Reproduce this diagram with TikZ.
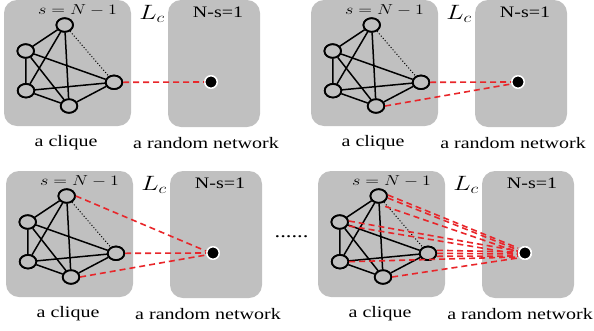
\documentclass[tikz,border=0pt]{standalone}
\usepackage{fontspec}
\setmainfont{Liberation Serif}
\usepackage{graphicx}
\usetikzlibrary{shapes.geometric}
\definecolor{boxgray}{RGB}{192,192,192}
\definecolor{edgered}{RGB}{232,38,42}
\newcommand\hs[1]{\scalebox{1.25}[1]{#1}}
\tikzset{
  panelbox/.style={fill=boxgray, draw=none, rounded corners=13pt},
  cn/.style={ellipse, draw=black, line width=1.8pt, fill=boxgray, minimum width=16.5pt, minimum height=13.5pt, inner sep=0pt},
  dotnode/.style={circle, fill=black, draw=white, line width=1.5pt, minimum size=12.5pt, inner sep=0pt},
  ce/.style={black, line width=1.5pt},
  cdot/.style={black, dotted, line width=1pt},
  rd/.style={edgered, dashed, dash pattern=on 6pt off 4pt, line width=1.6pt},
  lbl/.style={font=\fontsize{16}{18}\selectfont, inner sep=0pt},
}
\newcommand\drawpanel[3]{%
  \begin{scope}[shift={(#1,#2)}]
    \fill[panelbox] (4,0) rectangle (131,126);
    \fill[panelbox] (168,0) rectangle (260,127);
    \node[inner sep=0pt, font=\fontsize{14.4}{16}\selectfont] (#3m) at (77.5,10.5) {\hs{$s=N-1$}};
    \node[inner sep=0pt, font=\fontsize{20.74}{22}\selectfont] (#3L) at (152,13.5) {\hs{$L_c$}};
    \node[inner sep=0pt, font=\fontsize{16}{18}\selectfont] (#3n) at (218,12) {\hs{N-s=1}};
    \node[cn] (#3t) at (64.7,25) {};
    \node[cn] (#3l) at (25.7,51) {};
    \node[cn] (#3bl) at (26,90.7) {};
    \node[cn] (#3b) at (69,106) {};
    \node[cn] (#3r) at (114,82.3) {};
    \node[dotnode] (#3d) at (211,82) {};
    \draw[ce] (#3t) -- (#3l);
    \draw[ce] (#3t) -- (#3bl);
    \draw[ce] (#3t) -- (#3b);
    \draw[cdot] (#3t) -- (#3r);
    \draw[ce] (#3l) -- (#3bl);
    \draw[ce] (#3l) -- (#3b);
    \draw[ce] (#3l) -- (#3r);
    \draw[ce] (#3bl) -- (#3r);
    \draw[ce] (#3bl) -- (#3b);
    \draw[ce] (#3b) -- (#3r);
    \node[cn] at (#3t) {};
    \node[cn] at (#3l) {};
    \node[cn] at (#3bl) {};
    \node[cn] at (#3b) {};
    \node[cn] at (#3r) {};
    \node[lbl] (#3c) at (66,143) {\hs{a clique}};
    \node[lbl] (#3w) at (206,143) {\hs{a random network}};
  \end{scope}}
\begin{document}
\begin{tikzpicture}[x=1pt,y=-1pt]
\useasboundingbox (0,0) rectangle (594,330);
\drawpanel{0}{0}{a}
\drawpanel{307}{0}{b}
\drawpanel{2}{171}{c}
\drawpanel{314}{171}{e}
% panel 1
\draw[rd] (ar.east) -- (ad.west);
% panel 2
\draw[rd] (br.east) -- (bd.west);
\draw[rd] (bb.east) -- ([yshift=-2pt]bd.west);
% panel 3
\draw[rd] (ct.east) -- ([yshift=2pt]cd.west);
\draw[rd] (cr.east) -- (cd.west);
\draw[rd] (cb.east) -- ([yshift=-2pt]cd.west);
% dots between
\node[inner sep=0pt, font=\fontsize{18}{20}\selectfont, anchor=base] (gap) at (291.5,237) {\hs{......}};
% panel 4
\draw[rd] ([yshift=1pt]et.east) -- ([yshift=5pt]ed.west);
\draw[rd] ([yshift=-2pt]et.east) -- ([yshift=3pt]ed.west);
\draw[rd] ([yshift=-5pt]et.south east) -- ([yshift=1pt]ed.west);
\draw[rd] ([yshift=1pt]el.east) -- ([yshift=2pt]ed.west);
\draw[rd] ([yshift=-4pt]el.east) -- ([yshift=-1pt]ed.west);
\draw[rd] ([yshift=3pt]er.east) -- ([yshift=1pt]ed.west);
\draw[rd] (er.east) -- ([yshift=-1pt]ed.west);
\draw[rd] ([yshift=-3pt]er.east) -- ([yshift=-3pt]ed.west);
\draw[rd] (ebl.east) -- ([yshift=-4pt]ed.west);
\draw[rd] (eb.east) -- ([yshift=-5pt]ed.west);
\node[dotnode] at (ed) {};
\end{tikzpicture}
\end{document}
